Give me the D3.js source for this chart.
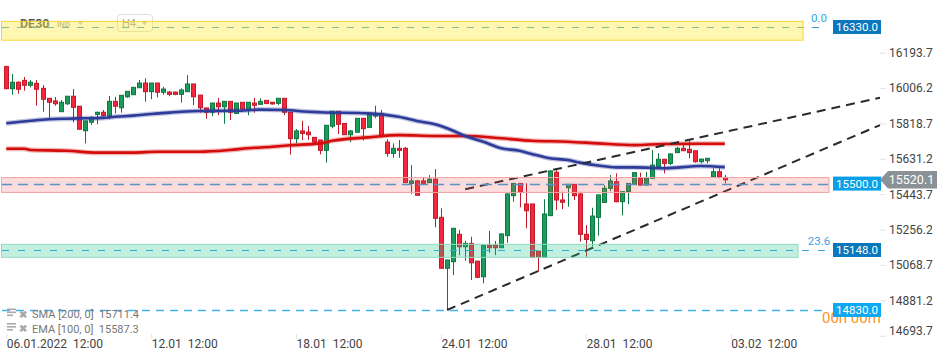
<!DOCTYPE html>
<html><head><meta charset="utf-8">
<script src="https://cdn.jsdelivr.net/npm/d3@7"></script>
<style>
html,body{margin:0;padding:0;background:#fff;overflow:hidden;}
svg{display:block;font-family:Roboto,"Noto Sans",sans-serif;}
</style></head><body>
<svg id="chart" width="950" height="361"></svg>
<script>
// ---- data (DE30, H4) ----
const openP  = [16120,16003,16037,16047,16021,16031,16005,15952,15938,15881,15923,15963,15910,15780,15825,15867,15878,15860,15936,15902,
  15960,15971,16008,16033,15987,16033,15984,15985,15985,15973,15987,16028,15969,15901,15878,15927,15907,15936,15872,15931,
  15895,15927,15920,15941,15931,15925,15952,15878,15738,15779,15773,15745,15731,15676,15804,15883,15819,15759,15772,15846,
  15798,15858,15872,15720,15660,15687,15687,15501,15514,15514,15505,15523,15321,15051,15086,15231,15165,15183,15089,15006,
  15174,15174,15160,15224,15436,15501,15392,15392,15142,15109,15330,15560,15413,15478,15496,15445,15231,15197,15321,15400,
  15475,15510,15404,15458,15495,15528,15492,15528,15589,15629,15607,15664,15687,15682,15674,15616,15621,15536,15563,15533];
const highP  = [16125,16081,16042,16065,16049,16049,16022,15952,15959,15943,15963,16001,15910,15832,15858,15881,15890,15964,15960,15968,
  15989,16010,16049,16058,16033,16033,16013,15991,15987,16005,16075,16028,15969,15901,15927,15954,15936,15936,15927,15931,
  15931,15954,15952,15941,15932,15952,15952,15878,15789,15833,15805,15745,15731,15809,15883,15883,15819,15784,15846,15846,
  15869,15913,15890,15735,15713,15731,15694,15598,15519,15530,15545,15577,15369,15095,15263,15254,15197,15218,15089,15174,
  15249,15196,15236,15448,15501,15501,15501,15392,15142,15417,15570,15582,15457,15496,15496,15457,15280,15372,15440,15492,
  15545,15554,15457,15501,15558,15558,15561,15678,15660,15629,15660,15694,15717,15727,15674,15630,15634,15581,15581,15545];
const lowP   = [16000,15971,15976,15992,16010,15913,15881,15849,15913,15881,15916,15825,15788,15713,15810,15814,15854,15841,15872,15876,
  15955,15971,16008,15934,15947,15957,15971,15963,15968,15929,15987,15916,15876,15844,15858,15863,15817,15837,15872,15890,
  15862,15876,15920,15920,15919,15916,15863,15653,15713,15731,15731,15710,15655,15611,15793,15763,15759,15720,15772,15729,
  15798,15846,15745,15642,15637,15637,15504,15445,15434,15492,15503,15268,15051,14830,15015,15121,15091,14989,14999,14971,
  15133,15121,15160,15186,15404,15374,15263,15104,15033,15109,15329,15360,15364,15377,15413,15192,15112,15169,15224,15397,
  15460,15401,15332,15390,15492,15492,15492,15528,15589,15554,15598,15662,15674,15634,15611,15607,15607,15536,15528,15501];
const closeP = [16003,16037,16000,16021,16037,16000,15947,15931,15923,15931,15963,15904,15788,15832,15851,15878,15860,15936,15910,15968,
  15989,16010,16033,15987,16033,15984,16001,15973,15973,15996,16028,15960,15902,15878,15927,15907,15936,15878,15927,15895,
  15931,15915,15936,15925,15922,15952,15878,15738,15779,15766,15759,15720,15676,15809,15883,15814,15759,15779,15846,15791,
  15869,15872,15754,15660,15687,15676,15505,15514,15438,15501,15523,15316,15051,15095,15263,15165,15183,15080,15003,15174,
  15160,15160,15233,15445,15501,15454,15356,15109,15110,15339,15567,15413,15401,15496,15436,15231,15204,15328,15440,15475,
  15514,15404,15457,15501,15558,15492,15528,15598,15629,15607,15657,15687,15674,15664,15616,15630,15634,15563,15536,15520];

const emaIdx = [0,4,7,10,13,16,18,21,24,27,29,32,38,42,46,50,52,60,65,68,71,74,76,79,82,85,87,90,93,95,98,101,104,109,115,119];
const emaVal = [15820,15833,15841,15844,15846,15848,15854,15860,15869,15876,15881,15885,15886,15892,15890,15881,15878,15872,15854,15832,
  15814,15780,15752,15722,15687,15674,15657,15634,15625,15611,15596,15586,15586,15581,15593,15587];
const smaIdx = [0,3,4,10,15,21,25,32,37,40,44,47,52,54,60,65,71,76,82,87,93,98,104,109,119];
const smaVal = [15685,15685,15678,15674,15664,15664,15669,15669,15678,15687,15695,15703,15713,15727,15745,15757,15752,15752,15740,15727,
  15722,15713,15704,15710,15711];

const yTicks = [16193.7,16006.2,15818.7,15631.2,15443.7,15256.2,15068.7,14881.2,14693.7];
const xTickIdx = [0,24,48,72,96,120];
const xTickLabels = ["06.01.2022  12:00","12.01  12:00","18.01  12:00","24.01  12:00","28.01  12:00","03.02  12:00"];

const levelPrices = [16330.0, 15500.0, 15148.0, 14830.0];
const zoneLo = [16260, 15453, 15109];
const zoneHi = [16360, 15532, 15178];
const fibLabels = ["0.0", "23.6"];
const fibPrices = [16330.0, 15148.0];
const trendUpper = [[76,15470],[144.7,15955]];
const trendLower = [[73,14830],[144.7,15810]];
const lastPrice = 15520.1;
const legendNames = ["SMA [200, 0]", "EMA [100, 0]"];
const legendValues = [15711.4, 15587.3];

// ---- scales ----
const svg = d3.select("#chart");
const x = d3.scaleLinear().domain([0, 144.7]).range([6.3, 880]);
const y = d3.scaleLinear().domain([14693.7, 16193.7]).range([335.7, 52.7]);

// header (under the yellow band)
const hdr = svg.append("g");
hdr.append("text").attr("x",20).attr("y",28).attr("font-size",12.5).attr("font-weight","bold").attr("fill","#555").text("DE30");
hdr.append("text").attr("x",57).attr("y",27).attr("font-size",8).attr("font-weight","bold").attr("fill","#b0b0b0").text("IND");
hdr.append("path").attr("d","M77,21 L84,21 L80.5,25 Z").attr("fill","#c8c8c8");
hdr.append("rect").attr("x",117.5).attr("y",14.5).attr("width",35).attr("height",17).attr("rx",3).attr("fill","#fff").attr("stroke","#ddd");
hdr.append("text").attr("x",122).attr("y",27).attr("font-size",11).attr("fill","#999").text("H4");
hdr.append("path").attr("d","M141,21 L148,21 L144.5,25 Z").attr("fill","#bbb");

// ---- candles ----
const cg = svg.append("g");
const idx = d3.range(openP.length);
idx.forEach(i => {
  const up = closeP[i] >= openP[i];
  const fill = up ? "#1b9c5b" : "#f4263b";
  const edge = up ? "#0f7743" : "#c01b2c";
  const xc = Math.round(x(i)) + 0.5;
  cg.append("line").attr("x1",xc).attr("x2",xc).attr("y1",y(highP[i])).attr("y2",y(lowP[i]))
    .attr("stroke",edge).attr("stroke-width",1);
  const yt = y(Math.max(openP[i],closeP[i])), yb = y(Math.min(openP[i],closeP[i]));
  cg.append("rect").attr("x",xc-2).attr("width",4).attr("y",yt).attr("height",Math.max(1,yb-yt))
    .attr("fill",fill).attr("stroke",edge).attr("stroke-width",1);
});

// ---- moving averages ----
const line = d3.line().x(d => x(d[0])).y(d => y(d[1])).curve(d3.curveMonotoneX);
const sma = smaIdx.map((d,i)=>[d, smaVal[i]]);
const ema = emaIdx.map((d,i)=>[d, emaVal[i]]);
[[sma,"#d40c0c"],[ema,"#2d3b99"]].forEach(([data,col]) => {
  svg.append("path").attr("d",line(data)).attr("fill","none").attr("stroke",col).attr("stroke-width",5).attr("stroke-opacity",0.3);
  svg.append("path").attr("d",line(data)).attr("fill","none").attr("stroke",col).attr("stroke-width",2.6);
});

// ---- trend lines ----
const tl = d3.line().x(d=>x(d[0])).y(d=>y(d[1]));
[trendUpper, trendLower].forEach(t => {
  svg.append("path").attr("d", tl(t)).attr("fill","none").attr("stroke","#2a2a2a")
    .attr("stroke-width",2).attr("stroke-dasharray","9,6");
});

// ---- level lines ----
const lvEnd = [826, 829, 826, 822];
const lvCol = ["#2e9bd6","#3aa0e0","#2fa6e6","#45b1ef"];
const lvDash = ["7,8","10,6","7,9","8,6"];
const lvW = [1, 1.3, 1, 1.4];
levelPrices.forEach((p,i) => {
  const yy = Math.round(y(p)) + 0.5;
  svg.append("line").attr("x1",2).attr("x2",lvEnd[i]).attr("y1",yy).attr("y2",yy)
    .attr("stroke",lvCol[i]).attr("stroke-width",lvW[i]).attr("stroke-dasharray",lvDash[i]);
});

// ---- zones (translucent, on top) ----
const zEnd = [803, 829, 798];
const zFill = ["rgba(255,236,60,0.40)","rgba(240,80,80,0.2)","rgba(40,196,138,0.28)"];
const zStroke = ["#f6d436","#f2a3a3","#8edbbf"];
zoneLo.forEach((lo,i) => {
  const yt = y(zoneHi[i]), yb = y(lo);
  svg.append("rect").attr("x",1.5).attr("y",yt).attr("width",zEnd[i]-1.5).attr("height",yb-yt)
    .attr("fill",zFill[i]).attr("stroke",zStroke[i]).attr("stroke-width",1);
});

// fib labels
fibLabels.forEach((t,i) => {
  svg.append("text").attr("x",819).attr("y",y(fibPrices[i]) - 5).attr("text-anchor","middle")
    .attr("font-size",11.5).attr("fill","#37a6e6").text(t);
});

// countdown (partly hidden behind the tag, as in the platform)
svg.append("text").attr("x",822).attr("y",323).attr("font-size",15).attr("fill","#f7961e").text("00h 00m");

// ---- price tags ----
const tagCol = ["#0b78bd","#0aa0e8","#0b78bd","#10a8f0"];
levelPrices.forEach((p,i) => {
  const yc = y(p);
  svg.append("rect").attr("x",833).attr("y",yc-7).attr("width",48).attr("height",14).attr("fill",tagCol[i]);
  svg.append("text").attr("x",857).attr("y",yc).attr("dy","0.36em").attr("text-anchor","middle")
    .attr("font-size",11.5).attr("fill","#fff").text(p.toFixed(1));
});

// ---- axes ----
const ya = svg.append("g").attr("transform","translate(880,0)")
  .call(d3.axisRight(y).tickValues(yTicks).tickSize(6).tickPadding(3).tickFormat(d3.format(".1f")));
ya.select(".domain").remove();
ya.selectAll(".tick line").attr("stroke","#e3e3e3");
ya.selectAll(".tick text").attr("font-size",12).attr("fill","#444").attr("font-family","Roboto");
ya.selectAll(".tick").filter(d => y(d) > 331).select("text").attr("y",-5);

const xa = svg.append("g").attr("transform","translate(0,334)")
  .call(d3.axisBottom(x).tickValues(xTickIdx).tickSize(5).tickFormat((d,i)=>xTickLabels[i]));
xa.select(".domain").remove();
xa.selectAll(".tick line").attr("stroke","#e3e3e3");
xa.selectAll(".tick text").attr("text-anchor","start").attr("x",0).attr("y",5.5)
  .attr("font-size",12).attr("fill","#444").attr("font-family","Roboto").style("white-space","pre");

// current price tag
const yc = y(lastPrice);
svg.append("path").attr("d",`M880,${yc} L888,${yc-8.7} L937,${yc-8.7} L937,${yc+8.7} L888,${yc+8.7} Z`).attr("fill","#8b9295");
svg.append("text").attr("x",911.5).attr("y",yc).attr("dy","0.36em").attr("text-anchor","middle")
  .attr("font-size",12.5).attr("fill","#fff").text(lastPrice.toFixed(1));

// ---- legend ----
legendNames.forEach((n,i) => {
  const by = 318 + i*14.5;
  const g = svg.append("g");
  [0,3,6].forEach(k => g.append("rect").attr("x",7).attr("y",by-9.5+k).attr("width",k===6?6:9).attr("height",1.6).attr("fill","#a9a9a9"));
  g.append("text").attr("x",19).attr("y",by-0.5).attr("font-size",10).attr("font-weight","bold").attr("fill","#a9a9a9").text("✖");
  g.append("text").attr("x",32).attr("y",by).attr("font-size",11).attr("fill","#777").style("white-space","pre")
    .text(`${n}  ${legendValues[i].toFixed(1)}`);
});
</script>
</body></html>
